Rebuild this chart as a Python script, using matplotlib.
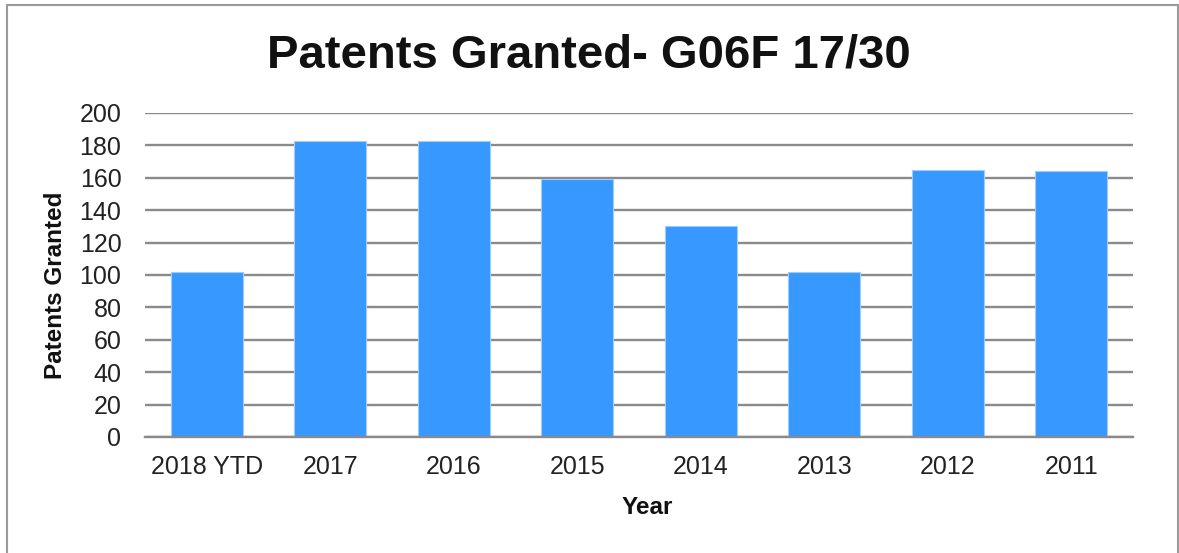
import matplotlib
matplotlib.use("Agg")
import matplotlib.pyplot as plt
from matplotlib.patches import Rectangle

categories = ["2018 YTD", "2017", "2016", "2015", "2014", "2013", "2012", "2011"]
patents = [102, 183, 183, 159, 130, 102, 165, 164]
yticks = [0, 20, 40, 60, 80, 100, 120, 140, 160, 180, 200]

W, H = 1179, 553
plt.rcParams['font.family'] = ['Liberation Sans', 'DejaVu Sans']
fig = plt.figure(figsize=(W / 100, H / 100), dpi=100)
fig.patch.set_facecolor("white")

# figure border
fig.add_artist(Rectangle((7 / W, -0.05), (1178 - 7) / W, 1.05 - 5 / H,
                         transform=fig.transFigure, fill=False,
                         edgecolor="#9a9a9a", linewidth=1.5))

left, right, top, bottom = 145, 1133, 113, 437
ax = fig.add_axes([left / W, 1 - bottom / H, (right - left) / W, (bottom - top) / H])

x = list(range(len(categories)))
ax.bar(x, patents, width=0.58, color="#3799ff", edgecolor="#9fcbff",
       linewidth=0.8, zorder=3)

ax.set_xlim(-0.5, len(categories) - 0.5)
ax.set_ylim(0, 200)
ax.set_yticks(yticks)
ax.set_xticks(x)
ax.set_xticklabels(categories)
ax.yaxis.grid(True, color="#8a8a8a", linewidth=1.7, zorder=0)
ax.set_axisbelow(True)
for s in ["top", "right", "left"]:
    ax.spines[s].set_visible(False)
ax.spines["bottom"].set_color("#8a8a8a")
ax.spines["bottom"].set_linewidth(1.7)
ax.spines["bottom"].set_zorder(4)

ax.tick_params(axis="both", length=0, labelsize=18, labelcolor="#222222")
ax.tick_params(axis="y", pad=17)
ax.tick_params(axis="x", pad=13)

fig.text(589 / W, 1 - 55 / H, "Patents Granted- G06F 17/30", ha="center",
         va="center", fontsize=34, fontweight="bold", color="#111111")
fig.text(56 / W, 1 - 285 / H, "Patents Granted", ha="center", va="center",
         rotation=90, fontsize=17.5, fontweight="bold", color="#111111")
fig.text(647 / W, 1 - 507 / H, "Year", ha="center", va="center",
         fontsize=17.5, fontweight="bold", color="#111111")

fig.savefig("out.png", dpi=100, facecolor="white")
